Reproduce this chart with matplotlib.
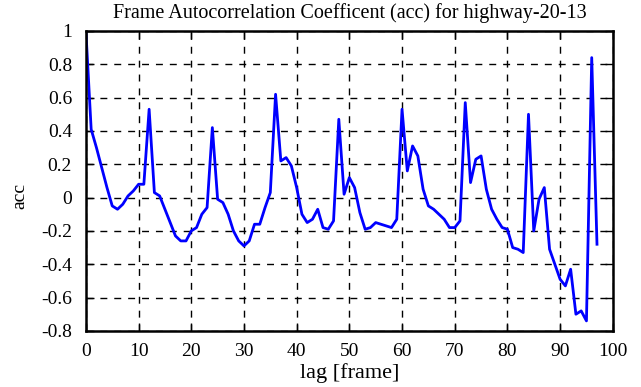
import matplotlib
matplotlib.use('Agg')
import matplotlib.pyplot as plt

# lag [frame] and autocorrelation values
lag = list(range(0, 98))
acc = [1.0, 0.41, 0.3, 0.18, 0.06, -0.05, -0.07, -0.04, 0.01, 0.04,
       0.08, 0.08, 0.53, 0.03, 0.01, -0.07, -0.15, -0.23, -0.26, -0.26,
       -0.2, -0.18, -0.1, -0.06, 0.42, -0.01, -0.03, -0.1, -0.2, -0.26,
       -0.29, -0.26, -0.16, -0.16, -0.06, 0.03, 0.62, 0.22, 0.24, 0.19,
       0.06, -0.1, -0.15, -0.13, -0.07, -0.18, -0.19, -0.14, 0.47, 0.02,
       0.12, 0.06, -0.09, -0.19, -0.18, -0.15, -0.16, -0.17, -0.18, -0.13,
       0.53, 0.16, 0.31, 0.25, 0.05, -0.05, -0.07, -0.1, -0.13, -0.18,
       -0.18, -0.14, 0.57, 0.09, 0.23, 0.25, 0.05, -0.07, -0.13, -0.18,
       -0.19, -0.3, -0.31, -0.33, 0.5, -0.2, -0.01, 0.06, -0.31, -0.4,
       -0.49, -0.53, -0.43, -0.7, -0.68, -0.74, 0.84, -0.28]

xticks = list(range(0, 101, 10))
yticks = [1, 0.8, 0.6, 0.4, 0.2, 0, -0.2, -0.4, -0.6, -0.8]
ytick_labels = ['1', '0.8', '0.6', '0.4', '0.2', '0', '-0.2', '-0.4', '-0.6', '-0.8']

plt.rcParams['font.family'] = ['Liberation Serif', 'DejaVu Serif']

fig = plt.figure(figsize=(6.41, 3.87), dpi=100)
ax = fig.add_axes([0.134, 0.145, 0.822, 0.775])

ax.plot(lag, acc, color='#0000ff', linewidth=2)

ax.set_xlim(0, 100)
ax.set_ylim(-0.8, 1)
ax.set_xticks(xticks)
ax.set_yticks(yticks)
ax.set_yticklabels(ytick_labels)
ax.tick_params(direction='in', length=6, width=1, top=True, right=True,
               labelsize=14)
ax.tick_params(axis='x', pad=9)
ax.tick_params(axis='y', pad=10)
ax.grid(True, color='black', linestyle=(0, (5, 5)), linewidth=1)
for s in ax.spines.values():
    s.set_linewidth(1.8)

ax.set_title('Frame Autocorrelation Coefficent (acc) for highway-20-13',
             fontsize=14.5, pad=9)
ax.set_xlabel('lag [frame]', fontsize=16, labelpad=2)
ax.set_ylabel('acc', fontsize=14, labelpad=12)
ax.yaxis.set_label_coords(-0.11, 0.45)

fig.savefig('out.png', dpi=100)
